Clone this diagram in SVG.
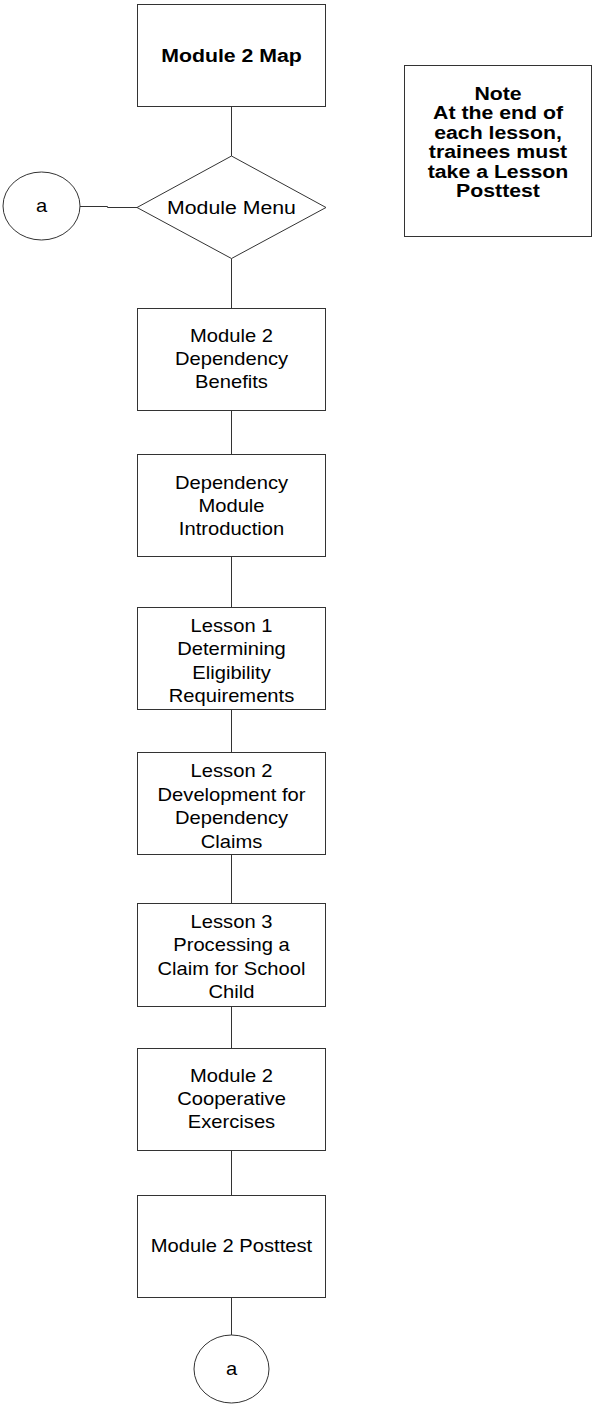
<svg xmlns="http://www.w3.org/2000/svg" width="594" height="1404" viewBox="0 0 594 1404">
<style>
.shape{fill:#ffffff;stroke:#333333;stroke-width:1}
.conn{fill:none;stroke:#333333;stroke-width:1}
text{font-family:"Liberation Sans",Arial,sans-serif;fill:#000000;text-anchor:middle}
.t{font-size:18px}
.tm{font-size:19px}
.tb{font-size:19px;font-weight:bold}
.tn{font-size:19px;font-weight:bold}
</style>
<rect width="594" height="1404" fill="#ffffff"/>
<g id="connectors">
<path class="conn" d="M231.5 106.5V156M231.5 258.5V308.5M231.5 410.5V454.5M231.5 556.5V607.5M231.5 709.5V752.5M231.5 854.5V903.5M231.5 1006.5V1048.5M231.5 1150.5V1195.5M231.5 1297.5V1335"/>
<path class="conn" d="M80 206.5H107.5V207.5H137"/>
</g>
<g id="map">
<rect class="shape" x="137.5" y="4.5" width="188" height="102"/>
<g transform="translate(231.5 0) scale(1.12 1)">
<text class="tb" x="0" y="62">Module 2 Map</text>
</g>
</g>
<g id="note">
<rect class="shape" x="404.5" y="65.5" width="187" height="171"/>
<g transform="translate(498 0) scale(1.12 1)">
<text class="tn" x="0" y="100">Note</text>
<text class="tn" x="0" y="119.5">At the end of</text>
<text class="tn" x="0" y="139">each lesson,</text>
<text class="tn" x="0" y="158.5">trainees must</text>
<text class="tn" x="0" y="178">take a Lesson</text>
<text class="tn" x="0" y="197.5">Posttest</text>
</g>
</g>
<g id="menu">
<polygon class="shape" points="231.5,156 326,207.5 231.5,258.5 137,207.5"/>
<g transform="translate(231.5 0) scale(1.12 1)">
<text class="tm" x="0" y="214">Module Menu</text>
</g>
</g>
<g id="connector-a-top">
<ellipse class="shape" cx="41.5" cy="206" rx="38.5" ry="34"/>
<g transform="translate(41.5 0) scale(1.12 1)">
<text class="t" x="0" y="212">a</text>
</g>
</g>
<g id="benefits">
<rect class="shape" x="137.5" y="308.5" width="188" height="102"/>
<g transform="translate(231.5 0) scale(1.12 1)">
<text class="t" x="0" y="342.5">Module 2</text>
<text class="t" x="0" y="365.5">Dependency</text>
<text class="t" x="0" y="388.5">Benefits</text>
</g>
</g>
<g id="intro">
<rect class="shape" x="137.5" y="454.5" width="188" height="102"/>
<g transform="translate(231.5 0) scale(1.12 1)">
<text class="t" x="0" y="489">Dependency</text>
<text class="t" x="0" y="512">Module</text>
<text class="t" x="0" y="535">Introduction</text>
</g>
</g>
<g id="lesson1">
<rect class="shape" x="137.5" y="607.5" width="188" height="102"/>
<g transform="translate(231.5 0) scale(1.12 1)">
<text class="t" x="0" y="632">Lesson 1</text>
<text class="t" x="0" y="655.5">Determining</text>
<text class="t" x="0" y="679">Eligibility</text>
<text class="t" x="0" y="702.5">Requirements</text>
</g>
</g>
<g id="lesson2">
<rect class="shape" x="137.5" y="752.5" width="188" height="102"/>
<g transform="translate(231.5 0) scale(1.12 1)">
<text class="t" x="0" y="777.5">Lesson 2</text>
<text class="t" x="0" y="801">Development for</text>
<text class="t" x="0" y="824.5">Dependency</text>
<text class="t" x="0" y="848">Claims</text>
</g>
</g>
<g id="lesson3">
<rect class="shape" x="137.5" y="903.5" width="188" height="103"/>
<g transform="translate(231.5 0) scale(1.12 1)">
<text class="t" x="0" y="928">Lesson 3</text>
<text class="t" x="0" y="951.5">Processing a</text>
<text class="t" x="0" y="975">Claim for School</text>
<text class="t" x="0" y="998.5">Child</text>
</g>
</g>
<g id="cooperative">
<rect class="shape" x="137.5" y="1048.5" width="188" height="102"/>
<g transform="translate(231.5 0) scale(1.12 1)">
<text class="t" x="0" y="1082.5">Module 2</text>
<text class="t" x="0" y="1105.5">Cooperative</text>
<text class="t" x="0" y="1128.5">Exercises</text>
</g>
</g>
<g id="posttest">
<rect class="shape" x="137.5" y="1195.5" width="188" height="102"/>
<g transform="translate(231.5 0) scale(1.12 1)">
<text class="t" x="0" y="1252.5">Module 2 Posttest</text>
</g>
</g>
<g id="connector-a-bottom">
<ellipse class="shape" cx="231.5" cy="1369" rx="37.5" ry="34"/>
<g transform="translate(231.5 0) scale(1.12 1)">
<text class="t" x="0" y="1375">a</text>
</g>
</g>
</svg>
